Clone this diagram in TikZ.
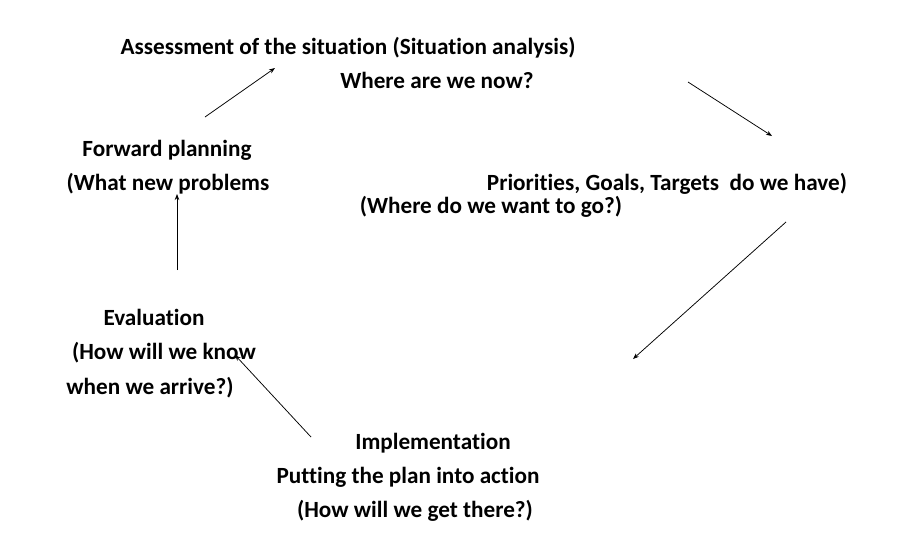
\documentclass[tikz,border=0pt]{standalone}
\usepackage{fontspec}
\setmainfont[Ligatures=NoCommon,RawFeature=-liga]{Carlito}
\usetikzlibrary{arrows.meta}
\begin{document}
\begin{tikzpicture}[x=1pt,y=-1pt,
  lbl/.style={font=\bfseries\fontsize{23.2}{27}\selectfont, inner sep=0pt, text height=0.7em, text depth=0.2em, anchor=center},
  conn/.style={line width=0.75pt, -{Stealth[length=6pt,width=4.5pt]}}]
\useasboundingbox (0,0) rectangle (908,542);
\node[lbl] (assess) at (348,52) {Assessment of the situation (Situation analysis)};
\node[lbl] (where) at (437,86) {Where are we now?};
\node[lbl] (fwd) at (167,154) {Forward planning};
\node[lbl] (what) at (168,188) {(What new problems};
\node[lbl] (prio) at (667,188) {Priorities, Goals, Targets\ \ do we have)};
\node[lbl] (wantgo) at (491,211) {(Where do we want to go?)};
\node[lbl] (eval) at (154,323) {Evaluation};
\node[lbl] (know) at (164,357) {(How will we know};
\node[lbl] (arrive) at (150,392) {when we arrive?)};
\node[lbl] (impl) at (433,447) {Implementation};
\node[lbl] (putting) at (408,481) {Putting the plan into action};
\node[lbl] (getthere) at (415,515) {(How will we get there?)};
\coordinate (a1s) at (205,117);
\coordinate (a1e) at (275,68);
\coordinate (a2s) at (688,82);
\coordinate (a2e) at (772,136);
\coordinate (a3s) at (786,222);
\coordinate (a3e) at (633,359);
\coordinate (a4s) at (311,437);
\coordinate (a4e) at (235,355);
\coordinate (a5s) at (177,270);
\coordinate (a5e) at (177,194);
\draw[conn] (a1s) -- (a1e);
\draw[conn] (a2s) -- (a2e);
\draw[conn] (a3s) -- (a3e);
\draw[conn] (a4s) -- (a4e);
\draw[conn] (a5s) -- (a5e);
\end{tikzpicture}
\end{document}
